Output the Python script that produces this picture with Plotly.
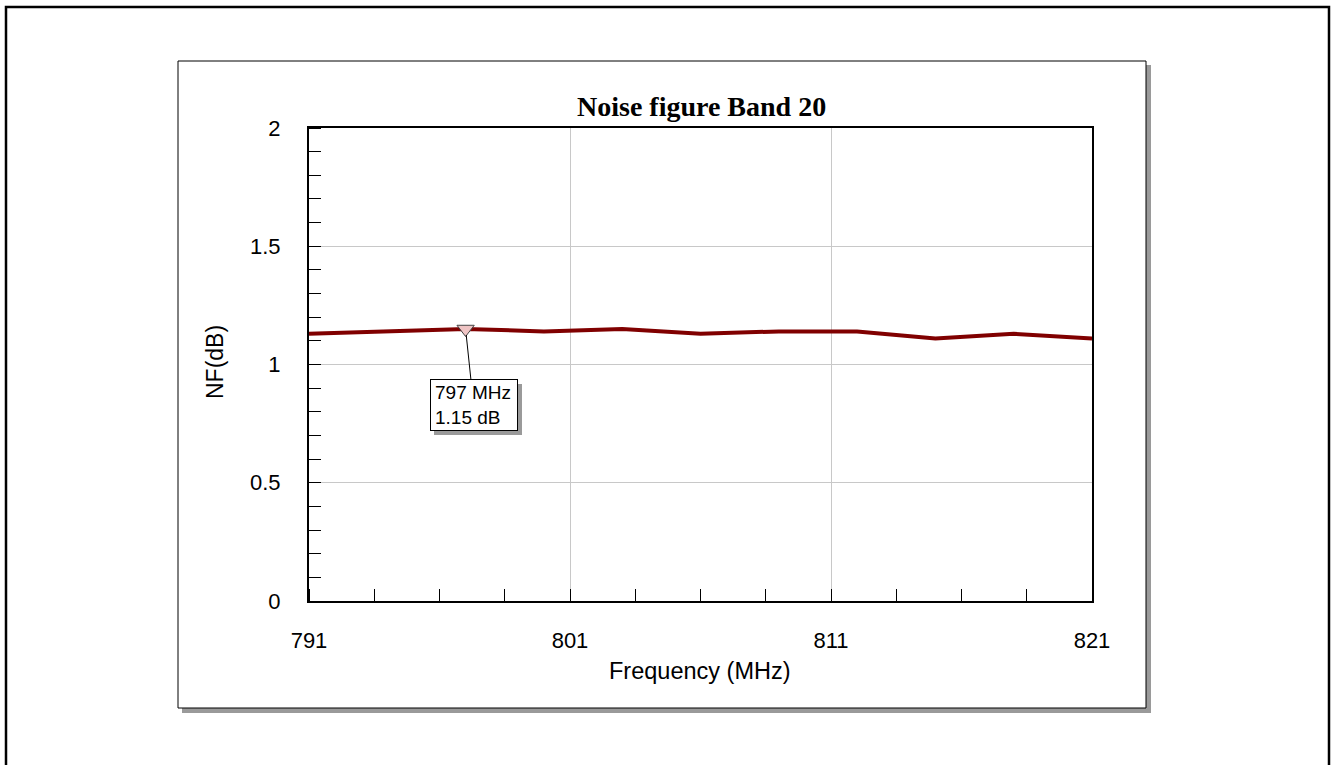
import plotly.graph_objects as go

# ---- data ----
freq_mhz = [791, 794, 797, 800, 803, 806, 809, 812, 815, 818, 821]
nf_db = [1.13, 1.14, 1.15, 1.14, 1.15, 1.13, 1.14, 1.14, 1.11, 1.13, 1.11]
marker_freq = [797]
marker_nf = [1.15]
marker_text = ["797 MHz<br>1.15 dB"]
x_ticks = [791, 801, 811, 821]
y_ticks = [0, 0.5, 1, 1.5, 2]

W, H = 1332, 765
L, R, T, B = 309, 1092, 128, 601


def px(x):
    return (x - L) / (R - L)


def py(y):
    return (B - y) / (B - T)


fig = go.Figure()
fig.add_trace(go.Scatter(x=freq_mhz, y=nf_db, mode="lines",
                         line=dict(color="#800000", width=4),
                         hoverinfo="x+y", showlegend=False))
fig.add_trace(go.Scatter(x=marker_freq, y=marker_nf, mode="markers",
                         marker=dict(symbol="triangle-down", size=15, color="#efc4c4",
                                     line=dict(color="#444444", width=1)),
                         showlegend=False))

shapes = []
# outer border
shapes.append(dict(type="rect", xref="paper", yref="paper", x0=px(6), x1=px(1329), y0=py(7), y1=py(790),
                   line=dict(color="black", width=2.5), fillcolor="rgba(0,0,0,0)", layer="below"))
# inner box shadow
shapes.append(dict(type="rect", xref="paper", yref="paper", x0=px(182), x1=px(1151), y0=py(65), y1=py(713),
                   line=dict(width=0), fillcolor="#9a9a9a", layer="below"))
# inner box
shapes.append(dict(type="rect", xref="paper", yref="paper", x0=px(178), x1=px(1146), y0=py(61), y1=py(708),
                   line=dict(color="black", width=1), fillcolor="white", layer="below"))
# annotation box shadow
shapes.append(dict(type="rect", xref="paper", yref="paper", x0=px(434), x1=px(522), y0=py(384), y1=py(435),
                   line=dict(width=0), fillcolor="#9a9a9a", layer="above"))

annotations = []
annotations.append(dict(text="<b>Noise figure Band 20</b>", xref="paper", yref="paper",
                        x=px(701), y=py(107), xanchor="center", yanchor="middle", showarrow=False,
                        font=dict(family="Liberation Serif", size=28, color="black")))
annotations.append(dict(text="Frequency (MHz)", xref="paper", yref="paper",
                        x=px(700), y=py(671), xanchor="center", yanchor="middle", showarrow=False,
                        font=dict(family="Liberation Sans", size=23.5, color="black")))
annotations.append(dict(text="NF(dB)", xref="paper", yref="paper", textangle=-90,
                        x=px(215), y=py(362), xanchor="center", yanchor="middle", showarrow=False,
                        font=dict(family="Liberation Sans", size=23, color="black")))
annotations.append(dict(text=marker_text[0], x=marker_freq[0], y=marker_nf[0], xref="x", yref="y",
                        showarrow=True, arrowhead=0, arrowwidth=1, arrowcolor="black",
                        ax=8, ay=76, standoff=6, align="left",
                        bgcolor="white", bordercolor="black", borderwidth=1, borderpad=4,
                        width=78, height=42,
                        font=dict(family="Liberation Sans", size=19, color="black")))

fig.update_layout(
    width=W, height=H,
    margin=dict(l=L, r=W - R, t=T, b=H - B),
    paper_bgcolor="white", plot_bgcolor="rgba(0,0,0,0)",
    shapes=shapes, annotations=annotations,
    showlegend=False,
)
fig.update_xaxes(range=[791, 821], tickmode="array", tickvals=x_ticks, ticktext=[str(v) for v in x_ticks],
                 ticks="", showgrid=True, gridcolor="#c8c8c8", gridwidth=1, zeroline=False,
                 showline=True, mirror=True, linecolor="black", linewidth=2,
                 tickfont=dict(family="Liberation Sans", size=22, color="black"),
                 ticklabelstandoff=19,
                 minor=dict(dtick=2.5, tick0=791, ticks="inside", ticklen=12, tickwidth=1,
                            tickcolor="black", showgrid=False))
fig.update_yaxes(range=[0, 2], tickmode="array", tickvals=y_ticks, ticktext=[str(v) if v % 1 else str(int(v)) for v in y_ticks],
                 ticks="", showgrid=True, gridcolor="#c8c8c8", gridwidth=1, zeroline=False,
                 showline=True, mirror=True, linecolor="black", linewidth=2,
                 tickfont=dict(family="Liberation Sans", size=22, color="black"),
                 ticklabelstandoff=22,
                 minor=dict(dtick=0.1, tick0=0, ticks="inside", ticklen=12, tickwidth=1,
                            tickcolor="black", showgrid=False))

fig.write_html("out.html")
